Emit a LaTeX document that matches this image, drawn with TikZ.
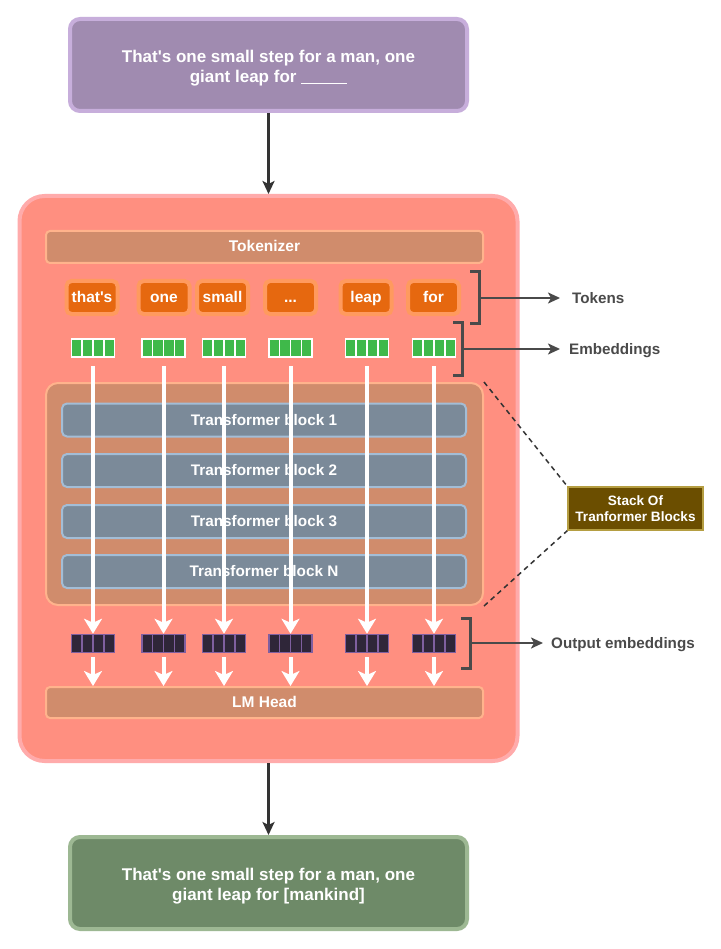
\documentclass[tikz,border=0pt]{standalone}
\usepackage{fontspec}
\setmainfont{Liberation Sans}[Ligatures=TeXOff]
\usetikzlibrary{arrows.meta,calc}
\definecolor{purfill}{HTML}{A08BB0}
\definecolor{purdraw}{HTML}{C7AEDB}
\definecolor{salfill}{HTML}{FF8F80}
\definecolor{saldraw}{HTML}{FFABAB}
\definecolor{tanfill}{HTML}{D08C6C}
\definecolor{tandraw}{HTML}{FFB38C}
\definecolor{tokfill}{HTML}{E6680F}
\definecolor{tokdraw}{HTML}{FF9A5E}
\definecolor{embfill}{HTML}{3FB94A}
\definecolor{outfill}{HTML}{2F2639}
\definecolor{outdraw}{HTML}{7F5FA0}
\definecolor{slfill}{HTML}{7B8A99}
\definecolor{sldraw}{HTML}{A3BDD6}
\definecolor{grfill}{HTML}{6E8A68}
\definecolor{grdraw}{HTML}{9DB893}
\definecolor{brfill}{HTML}{6B4E00}
\definecolor{brdraw}{HTML}{B59E42}
\definecolor{lblcol}{HTML}{4A4A4A}
\definecolor{darkarr}{HTML}{333333}
\tikzset{
  txtbox/.style={rounded corners=10pt, line width=4pt, minimum width=397pt, minimum height=92pt, inner sep=0pt},
  bigtxt/.style={inner sep=0pt, align=center, text=white, font=\fontsize{17}{20}\selectfont\bfseries},
  barbox/.style={rounded corners=4pt, line width=2pt, fill=tanfill, draw=tandraw, minimum width=437pt, inner sep=0pt, text height=12pt, text depth=2pt, text=white, font=\fontsize{15.5}{18}\selectfont\bfseries},
  tokbox/.style={rounded corners=5pt, line width=4pt, fill=tokfill, draw=tokdraw, minimum width=51pt, minimum height=33pt, inner sep=0pt, text height=12pt, text depth=2pt, text=white, font=\fontsize{15.5}{18}\selectfont\bfseries},
  vecbox/.style={line width=1.5pt, minimum width=43pt, minimum height=18pt, inner sep=0pt},
  tblock/.style={rounded corners=5pt, line width=2pt, fill=slfill, draw=sldraw, minimum width=404pt, minimum height=33pt, inner sep=0pt, text height=12pt, text depth=2pt, text=white, font=\fontsize{15.3}{18}\selectfont\bfseries},
  lbl/.style={anchor=west, inner sep=0pt, text height=12pt, text depth=2pt, text=lblcol, font=\fontsize{15.2}{18}\selectfont\bfseries},
  darrow/.style={line width=2.5pt, draw=lblcol, -{Stealth[length=12pt,width=11pt,inset=3pt]}},
  mainarrow/.style={line width=3pt, draw=darkarr, -{Stealth[length=13pt,width=12pt,inset=3pt]}},
  warrow/.style={line width=4pt, draw=white, -{Stealth[length=15pt,width=18pt,inset=4pt]}},
  brack/.style={line width=3pt, draw=lblcol},
}
\newcommand{\vecdivs}[2]{%
  \foreach \k in {1,2,3}{\draw[#2, line width=1.5pt] ($(#1.north west)!\k/4!(#1.north east)$) -- ($(#1.south west)!\k/4!(#1.south east)$);}}
\begin{document}
\begin{tikzpicture}[x=1pt,y=-1pt]
\useasboundingbox[fill=white] (0,0) rectangle (720,949);
% input box
\node[txtbox, fill=purfill, draw=purdraw] (input) at (268.5,65) {};
\node[bigtxt] (inputtxt) at (268.5,68) {That's one small step for a man, one\\giant leap for \rule[-2pt]{46pt}{1.3pt}};
% main box
\node[rounded corners=25pt, line width=4pt, fill=salfill, draw=saldraw, minimum width=498pt, minimum height=565pt, inner sep=0pt] (main) at (268.5,478.5) {};
% output box
\node[txtbox, fill=grfill, draw=grdraw] (output) at (268.5,883) {};
\node[bigtxt] (outputtxt) at (268.5,886) {That's one small step for a man, one\\giant leap for [mankind]};
\draw[mainarrow] (input.south) -- (main.north);
\draw[mainarrow] (main.south) -- (output.north);
% tokenizer
\node[barbox, minimum height=32pt] (tokenizer) at (264.5,247) {Tokenizer};
% tokens
\node[tokbox] (t1) at (92,297.5) {that's};
\node[tokbox] (t2) at (164,297.5) {one};
\node[tokbox] (t3) at (222.5,297.5) {small};
\node[tokbox] (t4) at (290.5,297.5) {...};
\node[tokbox] (t5) at (366,297.5) {leap};
\node[tokbox] (t6) at (433.5,297.5) {for};
% stack
\node[rounded corners=12pt, line width=2pt, fill=tanfill, draw=tandraw, minimum width=437pt, minimum height=222pt, inner sep=0pt] (stack) at (264.5,494) {};
\node[tblock] (b1) at (264,420) {Transformer block 1};
\node[tblock] (b2) at (264,470.5) {Transformer block 2};
\node[tblock] (b3) at (264,521.5) {Transformer block 3};
\node[tblock] (bN) at (264,571.5) {Transformer block N};
% LM head
\node[barbox, minimum height=31pt] (lmhead) at (264.5,702.5) {LM Head};
% embeddings and outputs
\foreach \n/\x in {1/93,2/163.5,3/224,4/290.5,5/367,6/434}{
  \node[vecbox, fill=embfill, draw=white] (e\n) at (\x,348) {};
  \vecdivs{e\n}{white}
  \node[vecbox, fill=outfill, draw=outdraw] (o\n) at (\x,643.5) {};
  \vecdivs{o\n}{outdraw}
  \draw[warrow, shorten <=8pt] (e\n.south) -- (o\n.north);
  \draw[warrow] ([yshift=-4pt]o\n.south) -- (lmhead.north -| o\n.south);
}
% brackets
\coordinate (tbA) at (470,272); \coordinate (tbB) at (479,272);
\coordinate (tbC) at (479,323); \coordinate (tbD) at (470,323);
\coordinate (tbM) at (479,298);
\draw[brack] (tbA) -- (tbB) -- (tbC) -- (tbD);
\coordinate (ebA) at (453,322); \coordinate (ebB) at (462,322);
\coordinate (ebC) at (462,375); \coordinate (ebD) at (453,375);
\coordinate (ebM) at (462,349);
\draw[brack] (ebA) -- (ebB) -- (ebC) -- (ebD);
\coordinate (obA) at (461,618); \coordinate (obB) at (470,618);
\coordinate (obC) at (470,668); \coordinate (obD) at (461,668);
\coordinate (obM) at (470,643);
\draw[brack] (obA) -- (obB) -- (obC) -- (obD);
% labels
\node[lbl] (ltok) at (572,298) {Tokens};
\node[lbl] (lemb) at (569,349) {Embeddings};
\node[lbl] (lout) at (551,643) {Output embeddings};
\draw[darrow, shorten >=12pt] (tbM) -- (tbM -| ltok.west);
\draw[darrow, shorten >=9pt] (ebM) -- (ebM -| lemb.west);
\draw[darrow, shorten >=8pt] (obM) -- (obM -| lout.west);
% stack label
\node[line width=1.5pt, fill=brfill, draw=brdraw, minimum width=135pt, minimum height=43pt, inner sep=0pt, align=center, text=white, font=\fontsize{13.6}{16}\selectfont\bfseries] (slbl) at (635.5,508.5) {Stack Of\\Tranformer Blocks};
\draw[darkarr, line width=1.5pt, dash pattern=on 5pt off 4pt] (stack.north east) -- (slbl.north west);
\draw[darkarr, line width=1.5pt, dash pattern=on 5pt off 4pt] (stack.south east) -- (slbl.south west);
\end{tikzpicture}
\end{document}
